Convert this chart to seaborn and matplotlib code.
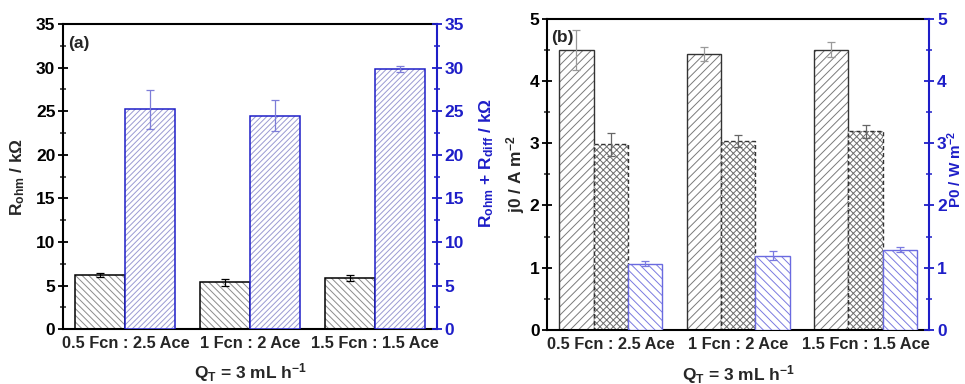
import matplotlib
matplotlib.use("Agg")
import matplotlib.pyplot as plt
from matplotlib.ticker import MultipleLocator
import seaborn as sns

# ---- data ----
ratios = ["0.5 Fcn : 2.5 Ace", "1 Fcn : 2 Ace", "1.5 Fcn : 1.5 Ace"]

# panel (a): resistances (kOhm)
r_ohm = [6.2, 5.4, 5.9]
r_ohm_err = [0.25, 0.40, 0.35]
r_total = [25.2, 24.5, 29.8]
r_total_err = [2.2, 1.75, 0.35]

# panel (b): current densities (A m-2) and power density (W m-2)
j0 = [4.50, 4.43, 4.50]
j0_err = [0.32, 0.11, 0.12]
j_cross = [2.98, 3.04, 3.19]
j_cross_err = [0.18, 0.10, 0.10]
p0 = [1.06, 1.19, 1.29]
p0_err = [0.04, 0.07, 0.04]

BLUE = "#1e1ec8"

sns.set_style("white")
plt.rcParams.update({
    "font.family": ["Liberation Sans", "DejaVu Sans"],
    "font.weight": "bold",
    "axes.labelweight": "bold",
    "mathtext.fontset": "custom",
    "mathtext.rm": "Liberation Sans:bold",
    "mathtext.bf": "Liberation Sans:bold",
    "mathtext.it": "Liberation Sans:bold",
    "mathtext.sf": "Liberation Sans:bold",
    "hatch.linewidth": 0.7,
})

FS = 12.5
XFS = 11.8


def hatched_bars(ax, pos, vals, width, hatch, hatch_color, edge_color,
                 lw=1.0, ls="-"):
    """Hatched bar layer plus a separate outline layer."""
    n0 = len(ax.patches)
    sns.barplot(x=pos, y=vals, native_scale=True, orient="x", width=width,
                color="white", saturation=1, edgecolor=hatch_color,
                linewidth=0, errorbar=None, ax=ax)
    for p in ax.patches[n0:]:
        p.set_hatch(hatch)
        p.set_edgecolor(hatch_color)
        p.set_linewidth(0)
    n1 = len(ax.patches)
    sns.barplot(x=pos, y=vals, native_scale=True, orient="x", width=width,
                fill=False, color=edge_color, saturation=1, linewidth=lw,
                errorbar=None, ax=ax)
    for p in ax.patches[n1:]:
        p.set_edgecolor(edge_color)
        p.set_linestyle(ls)


def err(ax, pos, vals, errs, color):
    ax.errorbar(pos, vals, yerr=errs, fmt="none", ecolor=color,
                elinewidth=0.9, capsize=3.0, capthick=0.9, zorder=5)


def style_left(ax, major, minor, top):
    ax.set_ylim(0, top)
    ax.yaxis.set_major_locator(MultipleLocator(major))
    ax.yaxis.set_minor_locator(MultipleLocator(minor))
    ax.tick_params(axis="y", which="major", direction="inout", length=7,
                   width=1.3, labelsize=FS, pad=2, colors="black")
    ax.tick_params(axis="y", which="minor", direction="inout", length=4.5,
                   width=1.1, left=True)
    ax.tick_params(axis="x", length=0, labelsize=XFS, pad=5)
    for s in ("left", "top", "bottom"):
        ax.spines[s].set_visible(True)
        ax.spines[s].set_color("black")
        ax.spines[s].set_linewidth(1.5)
    ax.spines["right"].set_visible(False)


def style_right(ax2, major, minor, top):
    ax2.set_ylim(0, top)
    ax2.yaxis.set_major_locator(MultipleLocator(major))
    ax2.yaxis.set_minor_locator(MultipleLocator(minor))
    ax2.tick_params(axis="y", which="major", direction="inout", length=7,
                    width=1.3, labelsize=FS, pad=2, colors=BLUE,
                    right=True, labelright=True)
    ax2.tick_params(axis="y", which="minor", direction="inout", length=4.5,
                    width=1.1, colors=BLUE, right=True)
    for s in ("left", "top", "bottom"):
        ax2.spines[s].set_visible(False)
    ax2.spines["right"].set_visible(True)
    ax2.spines["right"].set_color(BLUE)
    ax2.spines["right"].set_linewidth(1.5)


fig = plt.figure(figsize=(9.65, 3.84), dpi=100)

# ---------------- panel (a) ----------------
axa = fig.add_axes([0.0653, 0.143, 0.3876, 0.7945])
axa2 = axa.twinx()

xa_black = [i - 0.2 for i in range(len(ratios))]
xa_blue = [i + 0.2 for i in range(len(ratios))]

hatched_bars(axa, xa_black, r_ohm, 0.4, "\\\\\\\\\\", "#8c8c8c", "black", lw=1.1)
err(axa, xa_black, r_ohm, r_ohm_err, "black")
hatched_bars(axa2, xa_blue, r_total, 0.4, "//////", "#9a9ad2", BLUE, lw=1.1)
err(axa2, xa_blue, r_total, r_total_err, "#7d7dd8")

style_left(axa, 5, 2.5, 35)
style_right(axa2, 5, 2.5, 35)
axa.set_xlim(-0.5, 2.5)
axa.set_xticks(range(len(ratios)))
axa.set_xticklabels(ratios, fontsize=XFS, fontweight="bold")
axa.set_ylabel(r"R$_{\mathrm{ohm}}$ / k$\Omega$", fontsize=FS)
axa.yaxis.set_label_coords(-0.095, 0.5)
axa2.set_ylabel(r"R$_{\mathrm{ohm}}$ + R$_{\mathrm{diff}}$ / k$\Omega$",
                fontsize=FS, color=BLUE)
axa2.yaxis.set_label_coords(1.107, 0.544)
axa.set_xlabel(r"Q$_{\mathrm{T}}$ = 3 mL h$^{-1}$", fontsize=FS, labelpad=7)
axa.text(0.013, 0.962, "(a)", transform=axa.transAxes, ha="left", va="top",
         fontsize=FS, fontweight="bold")

# ---------------- panel (b) ----------------
axb = fig.add_axes([0.567, 0.141, 0.396, 0.810])
axb2 = axb.twinx()

wb = 0.27
xb1 = [i - wb for i in range(len(ratios))]
xb2 = [i for i in range(len(ratios))]
xb3 = [i + wb for i in range(len(ratios))]

hatched_bars(axb, xb1, j0, wb, "////", "#7a7a7a", "#333333", lw=1.0)
err(axb, xb1, j0, j0_err, "#9a9a9a")
hatched_bars(axb, xb2, j_cross, wb, "xxxxx", "#6e6e6e", "#333333", lw=1.0,
             ls=(0, (3, 2)))
err(axb, xb2, j_cross, j_cross_err, "#666666")
hatched_bars(axb2, xb3, p0, wb, "\\\\\\\\", "#7a7ae0", "#6a6ae0", lw=1.0)
err(axb2, xb3, p0, p0_err, "#7a7ae0")

style_left(axb, 1, 0.5, 5)
style_right(axb2, 1, 0.5, 5)
axb.set_xlim(-0.5, 2.5)
axb.set_xticks(range(len(ratios)))
axb.set_xticklabels(ratios, fontsize=XFS, fontweight="bold")
axb.set_ylabel(r"j0 / A m$^{-2}$", fontsize=FS)
axb.yaxis.set_label_coords(-0.052, 0.5)
axb2.set_ylabel(r"P0 / W m$^{-2}$", fontsize=11, color=BLUE)
axb2.yaxis.set_label_coords(1.042, 0.516)
axb.set_xlabel(r"Q$_{\mathrm{T}}$ = 3 mL h$^{-1}$", fontsize=FS, labelpad=8)
axb.text(0.01, 0.965, "(b)", transform=axb.transAxes, ha="left", va="top",
         fontsize=FS, fontweight="bold")

fig.savefig("out.png", dpi=100)
